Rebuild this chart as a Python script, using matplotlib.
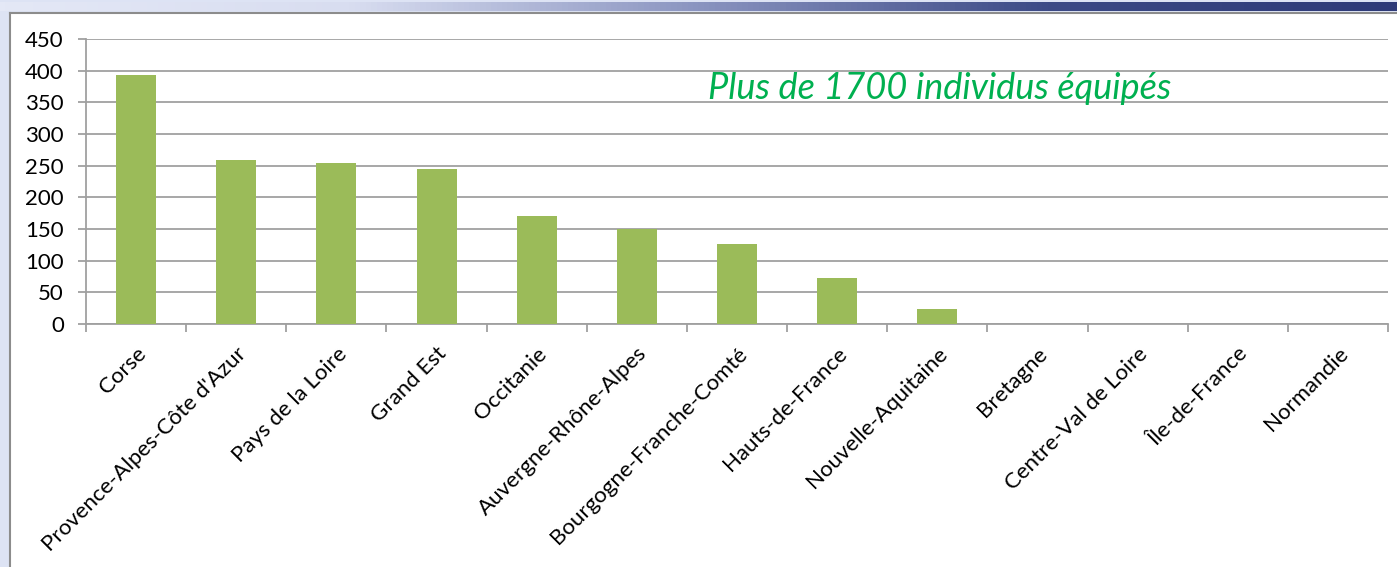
import matplotlib.pyplot as plt
import numpy as np
from matplotlib.colors import LinearSegmentedColormap

regions = ['Corse', "Provence-Alpes-Côte d'Azur", 'Pays de la Loire', 'Grand Est',
           'Occitanie', 'Auvergne-Rhône-Alpes', 'Bourgogne-Franche-Comté',
           'Hauts-de-France', 'Nouvelle-Aquitaine', 'Bretagne',
           'Centre-Val de Loire', 'Île-de-France', 'Normandie']
values = [393, 259, 255, 244, 171, 150, 127, 72, 23, 0, 0, 0, 0]
yticks = [0, 50, 100, 150, 200, 250, 300, 350, 400, 450]

plt.rcParams['font.family'] = ['Lato', 'DejaVu Sans']

W, H = 1397, 567
fig = plt.figure(figsize=(W / 100, H / 100), dpi=100)
fig.patch.set_facecolor('#dde3f4')

# bande en haut (décor)
band = fig.add_axes([0, 1 - 11 / H, 1, 9 / H], zorder=-2)
grad = np.linspace(0, 1, 256).reshape(1, -1)
cmap = LinearSegmentedColormap.from_list('b', ['#e4e8f6', '#d8ddf0', '#8a94c0', '#3c4a86', '#2e3a78'])
band.imshow(grad, aspect='auto', cmap=cmap, extent=[0, 1, 0, 1])
band.axis('off')

# cadre blanc du graphique
box = fig.add_axes([10 / W, -0.05, 1.05, 1 - 13 / H + 0.05], zorder=-1)
box.set_facecolor('white')
box.set_xticks([])
box.set_yticks([])
for s in box.spines.values():
    s.set_color('#8c8c8c')
    s.set_linewidth(1.5)

ax = fig.add_axes([86 / W, 243 / H, 1302 / W, 285 / H])
ax.set_facecolor('none')
x = np.arange(len(regions))
ax.bar(x, values, width=0.4, color='#9bbb59', zorder=3)
ax.set_xlim(-0.5, len(regions) - 0.5)
ax.set_ylim(0, 450)
ax.set_yticks(yticks)
ax.yaxis.grid(True, color='#a0a0a0', linewidth=1.3)
ax.set_axisbelow(True)
for s in ['top', 'right']:
    ax.spines[s].set_visible(False)
for s in ['left', 'bottom']:
    ax.spines[s].set_color('#a0a0a0')
    ax.spines[s].set_linewidth(1.3)
ax.tick_params(axis='y', length=6, color='#a0a0a0', width=1.3, labelsize=16, pad=10)
ax.set_xticks(np.arange(len(regions) + 1) - 0.5)
ax.set_xticklabels([])
ax.tick_params(axis='x', length=6, color='#a0a0a0', width=1.3)
ax.set_xticks(x, minor=True)
ax.set_xticklabels(regions, minor=True, rotation=45, ha='right', rotation_mode='anchor',
                   fontsize=16)
ax.tick_params(axis='x', which='minor', length=0, pad=14)

ax.text(0.656, 0.828, 'Plus de 1700 individus équipés', transform=ax.transAxes,
        color='#00b050', fontsize=26, style='italic', ha='center', va='center')

fig.savefig('out.png', dpi=100, facecolor=fig.get_facecolor())
